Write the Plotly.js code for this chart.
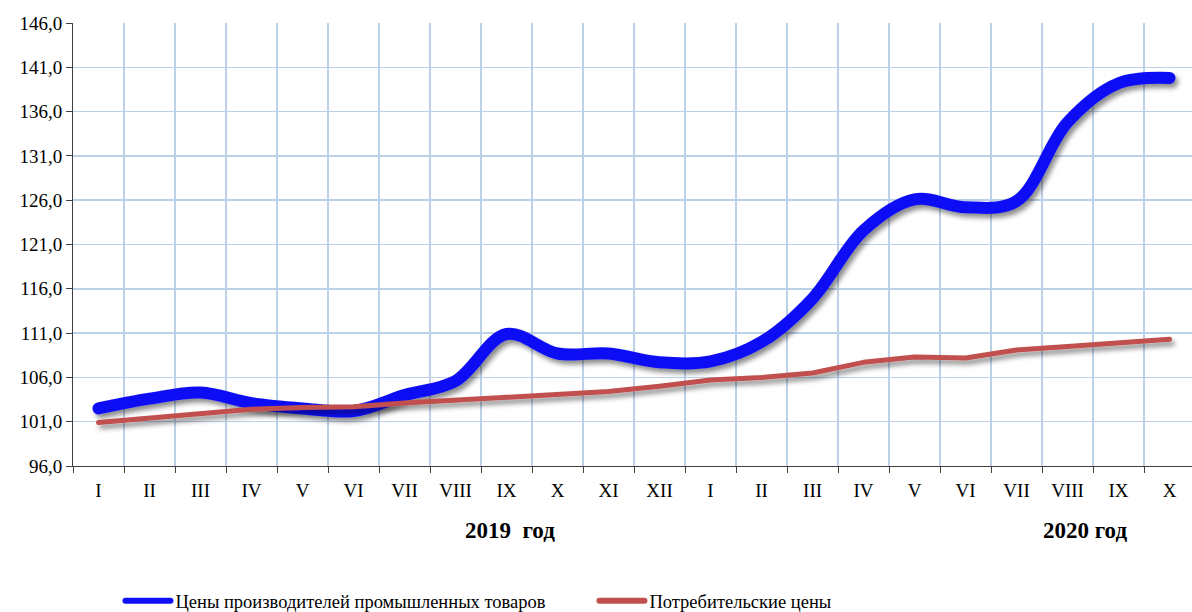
<!DOCTYPE html>
<html>
<head>
<meta charset="utf-8">
<script src="https://cdn.plot.ly/plotly-3.0.1.min.js"></script>
<style>
  html, body { margin: 0; padding: 0; background: #fff; }
  #chart { width: 1192px; height: 612px; }
</style>
</head>
<body>
<div id="chart"></div>
<script>
// Month labels: 2019 (I..XII), 2020 (I..X)
const months = ['I','II','III','IV','V','VI','VII','VIII','IX','X','XI','XII',
                'I','II','III','IV','V','VI','VII','VIII','IX','X'];
// Producer prices of industrial goods
const producerPrices = [102.5, 103.6, 104.3, 103.1, 102.5, 102.2, 104.0, 105.6, 110.9, 108.7, 108.7, 107.7,
                        107.8, 110.0, 114.9, 122.6, 126.1, 125.2, 125.9, 134.8, 139.2, 139.8];
// Consumer prices
const consumerPrices = [100.9, 101.4, 101.9, 102.4, 102.6, 102.7, 103.1, 103.4, 103.7, 104.0, 104.4, 105.0,
                        105.7, 106.0, 106.5, 107.7, 108.3, 108.2, 109.1, 109.5, 109.9, 110.3];
const seriesNames = ['Цены производителей промышленных товаров', 'Потребительские цены'];
const yearLabels = ['2019  год', '2020 год'];

const xIdx = months.map((_, i) => i);

const font = 'Liberation Serif, "Times New Roman", serif';

const traces = [
  {
    x: xIdx, y: producerPrices, name: seriesNames[0], type: 'scatter', mode: 'lines',
    line: { color: '#1010F5', width: 12, shape: 'spline', smoothing: 1.0 },
    hoverinfo: 'skip'
  },
  {
    x: xIdx, y: consumerPrices, name: seriesNames[1], type: 'scatter', mode: 'lines',
    line: { color: '#C0504D', width: 5, shape: 'linear' },
    hoverinfo: 'skip'
  }
];

const gridColor = '#BCD0E8';

const layout = {
  width: 1192, height: 612,
  margin: { l: 73, r: 0, t: 23, b: 146, autoexpand: false },
  paper_bgcolor: '#fff', plot_bgcolor: '#fff',
  separators: ', ',
  font: { family: font, size: 19, color: '#000' },
  showlegend: true,
  legend: {
    orientation: 'h', x: 0.0424, xanchor: 'left', y: -0.305, yanchor: 'middle',
    font: { family: font, size: 18.5, color: '#000' },
    itemwidth: 45, entrywidth: 414, entrywidthmode: 'pixels',
    bgcolor: 'rgba(0,0,0,0)'
  },
  xaxis: {
    range: [-0.5, 21.44],
    tickmode: 'array', tickvals: xIdx, ticktext: months,
    ticks: '', showgrid: false, zeroline: false,
    showline: true, linecolor: '#404040', linewidth: 1,
    tickfont: { family: font, size: 19, color: '#000' },
    ticklabelstandoff: 7,
    automargin: false,
    minor: { tickmode: 'linear', tick0: -0.5, dtick: 1, ticks: 'outside', ticklen: 6,
             tickcolor: '#404040', showgrid: true, gridcolor: gridColor, gridwidth: 1.5 }
  },
  yaxis: {
    range: [96, 146], tickmode: 'linear', tick0: 96, dtick: 5,
    tickformat: '.1f', ticks: 'outside', ticklen: 6, tickcolor: '#404040',
    showline: true, linecolor: '#404040', linewidth: 1,
    showgrid: true, gridcolor: gridColor, gridwidth: 1.5, zeroline: false,
    automargin: false,
    tickfont: { family: font, size: 19, color: '#000' }
  },
  annotations: [
    { text: yearLabels[0], xref: 'paper', yref: 'paper', x: 0.3902, y: -0.145,
      xanchor: 'center', yanchor: 'middle', showarrow: false,
      font: { family: font, size: 23, color: '#000', weight: 'bold' } },
    { text: yearLabels[1], xref: 'paper', yref: 'paper', x: 0.9044, y: -0.145,
      xanchor: 'center', yanchor: 'middle', showarrow: false,
      font: { family: font, size: 23, color: '#000', weight: 'bold' } }
  ]
};

Plotly.newPlot('chart', traces, layout, { displayModeBar: false, staticPlot: true }).then(gd => {
  const svgNS = 'http://www.w3.org/2000/svg';
  const mainSvg = gd.querySelector('svg.main-svg');
  let defs = mainSvg.querySelector('defs');
  if (!defs) { defs = document.createElementNS(svgNS, 'defs'); mainSvg.insertBefore(defs, mainSvg.firstChild); }
  const filter = document.createElementNS(svgNS, 'filter');
  filter.setAttribute('id', 'lineShadow');
  filter.setAttribute('filterUnits', 'userSpaceOnUse');
  filter.setAttribute('x', '-200'); filter.setAttribute('y', '-200');
  filter.setAttribute('width', '1600'); filter.setAttribute('height', '1000');
  const ds = document.createElementNS(svgNS, 'feDropShadow');
  ds.setAttribute('dx', '3'); ds.setAttribute('dy', '4'); ds.setAttribute('stdDeviation', '2.5');
  ds.setAttribute('flood-color', '#000'); ds.setAttribute('flood-opacity', '0.45');
  filter.appendChild(ds);
  defs.appendChild(filter);
  gd.querySelectorAll('.scatterlayer .js-line').forEach(p => {
    p.setAttribute('filter', 'url(#lineShadow)');
    p.style.strokeLinecap = 'round';
    p.style.strokeLinejoin = 'round';
  });
  gd.querySelectorAll('.legend .js-line').forEach(p => {
    p.style.strokeLinecap = 'round';
    p.style.strokeWidth = '6px';
  });
});
</script>
</body>
</html>
